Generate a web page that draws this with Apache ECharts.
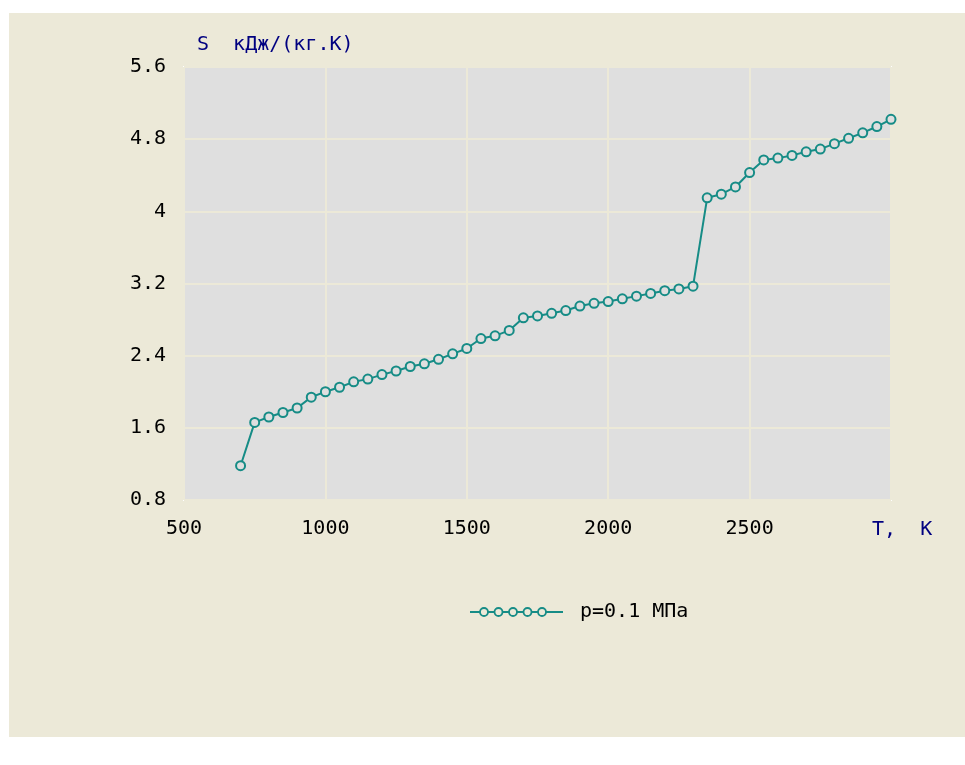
<!DOCTYPE html>
<html>
<head>
<meta charset="utf-8">
<script src="https://cdn.jsdelivr.net/npm/echarts@6/dist/echarts.min.js"></script>
<style>
html,body{margin:0;padding:0;background:#ffffff;}
#chart{width:965px;height:765px;}
</style>
</head>
<body>
<div id="chart"></div>
<script>
// Temperature, K
const temperatures = [700, 750, 800, 850, 900, 950, 1000, 1050, 1100, 1150, 1200, 1250, 1300, 1350, 1400, 1450,
  1500, 1550, 1600, 1650, 1700, 1750, 1800, 1850, 1900, 1950, 2000, 2050, 2100, 2150, 2200, 2250, 2300,
  2350, 2400, 2450, 2500, 2550, 2600, 2650, 2700, 2750, 2800, 2850, 2900, 2950, 3000];
// Entropy S, kJ/(kg.K)
const entropy = [1.18, 1.66, 1.72, 1.77, 1.82, 1.94, 2.00, 2.05, 2.11, 2.14, 2.19, 2.23, 2.28, 2.31, 2.36, 2.42,
  2.48, 2.59, 2.62, 2.68, 2.82, 2.84, 2.87, 2.90, 2.95, 2.98, 3.00, 3.03, 3.06, 3.09, 3.12, 3.14, 3.17,
  4.15, 4.19, 4.27, 4.43, 4.57, 4.59, 4.62, 4.66, 4.69, 4.75, 4.81, 4.87, 4.94, 5.02];
const seriesName = 'p=0.1 МПа';
const yAxisTitle = 'S  кДж/(кг.К)';
const xAxisTitle = 'T,  К';

const teal = '#168C86';
const beige = '#ECE9D8';
const font = '"DejaVu Sans Mono", "Liberation Mono", monospace';

const iconSvg = '<svg xmlns="http://www.w3.org/2000/svg" width="93" height="12">' +
  '<line x1="0" y1="6" x2="93" y2="6" stroke="' + teal + '" stroke-width="2"/>' +
  [14, 28.5, 43, 57.5, 72].map(cx => '<circle cx="' + cx + '" cy="6" r="4" fill="' + beige + '" stroke="' + teal + '" stroke-width="1.8"/>').join('') +
  '</svg>';
const iconUri = 'image://data:image/svg+xml;charset=utf-8,' + encodeURIComponent(iconSvg);

const chart = echarts.init(document.getElementById('chart'), null, {renderer: 'canvas'});
chart.setOption({
  backgroundColor: '#ffffff',
  animation: false,
  graphic: [{
    type: 'rect', z: -100, silent: true,
    shape: {x: 9, y: 13, width: 956, height: 724},
    style: {fill: beige}
  }],
  grid: {
    left: 184, right: 74, top: 67, bottom: 265,
    show: true, backgroundColor: '#DFDFDF', borderColor: '#ffffff', borderWidth: 2
  },
  legend: {
    left: 465, top: 597,
    itemWidth: 93, itemHeight: 12,
    data: [{name: seriesName, icon: iconUri}],
    textStyle: {fontFamily: font, fontSize: 20, color: '#000', padding: [0, 0, 0, 12]}
  },
  xAxis: {
    type: 'value', min: 500, max: 3000, interval: 500,
    name: '{t|' + xAxisTitle + '}', nameLocation: 'end', nameGap: -19,
    nameTextStyle: {
      align: 'left', verticalAlign: 'top',
      rich: {t: {fontFamily: font, fontSize: 20, color: '#000080', padding: [20, 0, 0, 0]}}
    },
    axisLine: {show: false}, axisTick: {show: false},
    axisLabel: {fontFamily: font, fontSize: 20, color: '#000', margin: 19, showMaxLabel: false,
      formatter: v => String(v)},
    splitLine: {show: true, lineStyle: {color: beige, width: 2}}
  },
  yAxis: {
    type: 'value', min: 0.8, max: 5.6, interval: 0.8,
    name: yAxisTitle, nameLocation: 'end', nameGap: 12,
    nameTextStyle: {fontFamily: font, fontSize: 20, color: '#000080', align: 'left', padding: [0, 0, 0, 13]},
    axisLine: {show: false}, axisTick: {show: false},
    axisLabel: {fontFamily: font, fontSize: 20, color: '#000', margin: 18,
      formatter: v => String(Math.round(v * 10) / 10)},
    splitLine: {show: true, lineStyle: {color: beige, width: 2}}
  },
  series: [{
    name: seriesName,
    type: 'line',
    data: temperatures.map((t, i) => [t, entropy[i]]),
    symbol: 'circle', symbolSize: 9,
    lineStyle: {color: teal, width: 2},
    itemStyle: {color: '#DFDFDF', borderColor: teal, borderWidth: 2},
    emphasis: {disabled: true}
  }]
});
</script>
</body>
</html>
